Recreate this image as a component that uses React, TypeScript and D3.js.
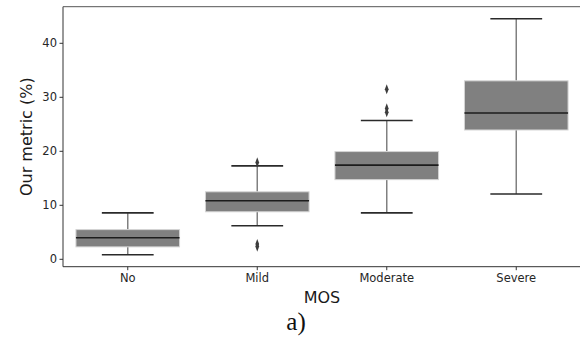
import * as d3 from 'd3'

const categories = ['No', 'Mild', 'Moderate', 'Severe']
// five-number summaries: [lowCap, q1, median, q3, highCap]
const lowCaps = [0.85, 6.2, 8.6, 12.1]
const q1s = [2.3, 8.8, 14.75, 23.95]
const medians = [4.0, 10.85, 17.45, 27.1]
const q3s = [5.5, 12.5, 19.95, 33.05]
const highCaps = [8.6, 17.3, 25.7, 44.55]
const outliers: number[][] = [[], [17.95, 2.85, 2.35], [31.5, 27.95, 27.25], []]
const yTicks = [0, 10, 20, 30, 40]

const W = 580
const H = 337

export default function App() {
  const left = 63
  const right = 581
  const top = 6.7
  const bottom = 266.7

  const x = d3.scaleBand<string>().domain(categories).range([left, right]).padding(0)
  const y = d3.scaleLinear().domain([-1.37, 46.78]).range([bottom, top])

  const bw = x.bandwidth() * 0.8
  const capW = bw / 2
  const diamond = d3.symbol().type(d3.symbolDiamond).size(22)()

  const tickFont = 'DejaVu Sans, sans-serif'

  return (
    <svg
      width={W}
      height={H}
      style={{ position: 'absolute', left: 0, top: 0, background: '#fff' }}
    >
      {categories.map((c, i) => {
        const cx = (x(c) ?? 0) + x.bandwidth() / 2
        return (
          <g key={c}>
            {/* whiskers */}
            <line x1={cx} x2={cx} y1={y(q3s[i])} y2={y(highCaps[i])} stroke="#808080" strokeWidth={1.5} />
            <line x1={cx} x2={cx} y1={y(q1s[i])} y2={y(lowCaps[i])} stroke="#808080" strokeWidth={1.5} />
            {/* box */}
            <rect
              x={cx - bw / 2}
              y={y(q3s[i])}
              width={bw}
              height={y(q1s[i]) - y(q3s[i])}
              fill="#808080"
              stroke="#d4d4d4"
              strokeWidth={1}
            />
            <line x1={cx - bw / 2} x2={cx + bw / 2} y1={y(medians[i])} y2={y(medians[i])} stroke="#1c1c1c" strokeWidth={1.6} />
            {/* caps */}
            <line x1={cx - capW / 2} x2={cx + capW / 2} y1={y(highCaps[i])} y2={y(highCaps[i])} stroke="#2a2a2a" strokeWidth={1.6} />
            <line x1={cx - capW / 2} x2={cx + capW / 2} y1={y(lowCaps[i])} y2={y(lowCaps[i])} stroke="#2a2a2a" strokeWidth={1.6} />
            {outliers[i].map((v, j) => (
              <path
                key={j}
                d={diamond ?? ''}
                transform={`translate(${cx},${y(v)}) scale(0.75,1.15)`}
                fill="#3d3d3d"
              />
            ))}
          </g>
        )
      })}

      {/* spines */}
      <line x1={left} x2={left} y1={top} y2={bottom} stroke="#333" strokeWidth={1} />
      <line x1={left} x2={W} y1={bottom} y2={bottom} stroke="#333" strokeWidth={1} />
      <line x1={left} x2={W} y1={top} y2={top} stroke="#555" strokeWidth={1} />

      {/* y ticks */}
      {yTicks.map((t) => (
        <g key={t}>
          <line x1={left - 3.5} x2={left} y1={y(t)} y2={y(t)} stroke="#333" strokeWidth={1} />
          <text
            x={left - 6}
            y={y(t)}
            dy="0.36em"
            textAnchor="end"
            fontFamily={tickFont}
            fontSize={11.5}
            fill="#262626"
          >
            {t}
          </text>
        </g>
      ))}

      {/* x ticks */}
      {categories.map((c) => {
        const cx = (x(c) ?? 0) + x.bandwidth() / 2
        return (
          <g key={c}>
            <line x1={cx} x2={cx} y1={bottom} y2={bottom + 3.5} stroke="#333" strokeWidth={1} />
            <text
              x={cx}
              y={282}
              textAnchor="middle"
              fontFamily={tickFont}
              fontSize={11.5}
              fill="#262626"
            >
              {c}
            </text>
          </g>
        )
      })}

      <text
        x={(left + right) / 2}
        y={302.5}
        textAnchor="middle"
        fontFamily={tickFont}
        fontSize={16}
        fill="#1a1a1a"
      >
        MOS
      </text>
      <text
        transform={`translate(32,${(top + bottom) / 2}) rotate(-90)`}
        textAnchor="middle"
        fontFamily={tickFont}
        fontSize={16}
        fill="#1a1a1a"
      >
        Our metric (%)
      </text>
      <text
        x={296}
        y={330}
        textAnchor="middle"
        fontFamily="Liberation Serif, Times New Roman, serif"
        fontSize={25}
        fill="#111"
      >
        a)
      </text>
    </svg>
  )
}
